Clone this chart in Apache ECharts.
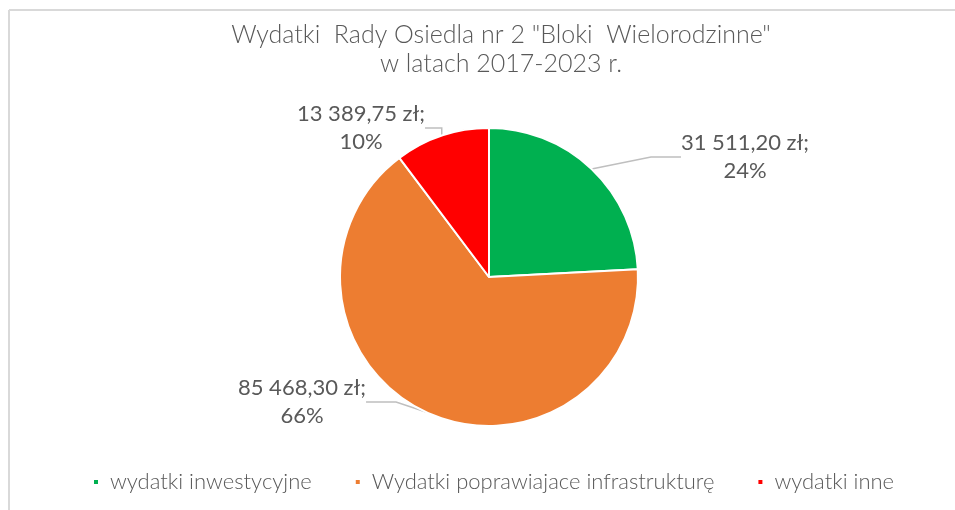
<!DOCTYPE html>
<html><head><meta charset="utf-8">
<script src="https://cdn.jsdelivr.net/npm/echarts@6/dist/echarts.min.js"></script>
<style>html,body{margin:0;padding:0;background:#fff}#c{width:955px;height:510px}</style>
</head><body><div id="c"></div>
<script>
const categories = ['wydatki inwestycyjne', 'Wydatki poprawiajace infrastrukturę', 'wydatki inne'];
const values = [31511.20, 85468.30, 13389.75];
const percentLabels = ['24%', '66%', '10%'];
const valueLabels = ['31 511,20 zł;', '85 468,30 zł;', '13 389,75 zł;'];
const colors = ['#00B050', '#ED7D31', '#FF0000'];
const labelPos = [[745, 157], [302, 402], [361, 128]];

const chart = echarts.init(document.getElementById('c'));
const FONT = 'Lato';
chart.setOption({
  backgroundColor: '#fff',
  animation: false,
  title: {
    text: 'Wydatki  Rady Osiedla nr 2 "Bloki  Wielorodzinne"\nw latach 2017-2023 r.',
    left: 496, top: 15, textAlign: 'center',
    textStyle: { fontFamily: FONT, fontSize: 25, fontWeight: 300, color: '#595959', lineHeight: 29 }
  },
  legend: {
    bottom: 12, left: 87, icon: 'rect', itemWidth: 6, itemHeight: 6, itemGap: 42,
    textStyle: { fontFamily: FONT, fontSize: 22, fontWeight: 300, color: '#595959', padding: [0, 0, 0, 6] },
    data: categories
  },
  graphic: [
    { type: 'line', shape: { x1: 9, y1: 10, x2: 955, y2: 10 }, style: { stroke: '#d9d9d9', lineWidth: 2 } },
    { type: 'line', shape: { x1: 9, y1: 10, x2: 9, y2: 510 }, style: { stroke: '#d9d9d9', lineWidth: 2 } }
  ],
  series: [{
    type: 'pie',
    center: [489, 277],
    radius: 149,
    startAngle: 90,
    clockwise: true,
    itemStyle: { borderColor: '#fff', borderWidth: 2 },
    label: {
      show: true,
      formatter: p => valueLabels[p.dataIndex] + '\n' + percentLabels[p.dataIndex],
      fontFamily: FONT, fontSize: 22, color: '#595959', lineHeight: 28, align: 'center'
    },
    labelLine: { show: true, lineStyle: { color: '#bfbfbf', width: 1.5 } },
    labelLayout: p => ({ x: labelPos[p.dataIndex][0], y: labelPos[p.dataIndex][1], align: 'center', verticalAlign: 'middle' }),
    data: categories.map((c, i) => ({ name: c, value: values[i], itemStyle: { color: colors[i] } }))
  }]
});
</script></body></html>
